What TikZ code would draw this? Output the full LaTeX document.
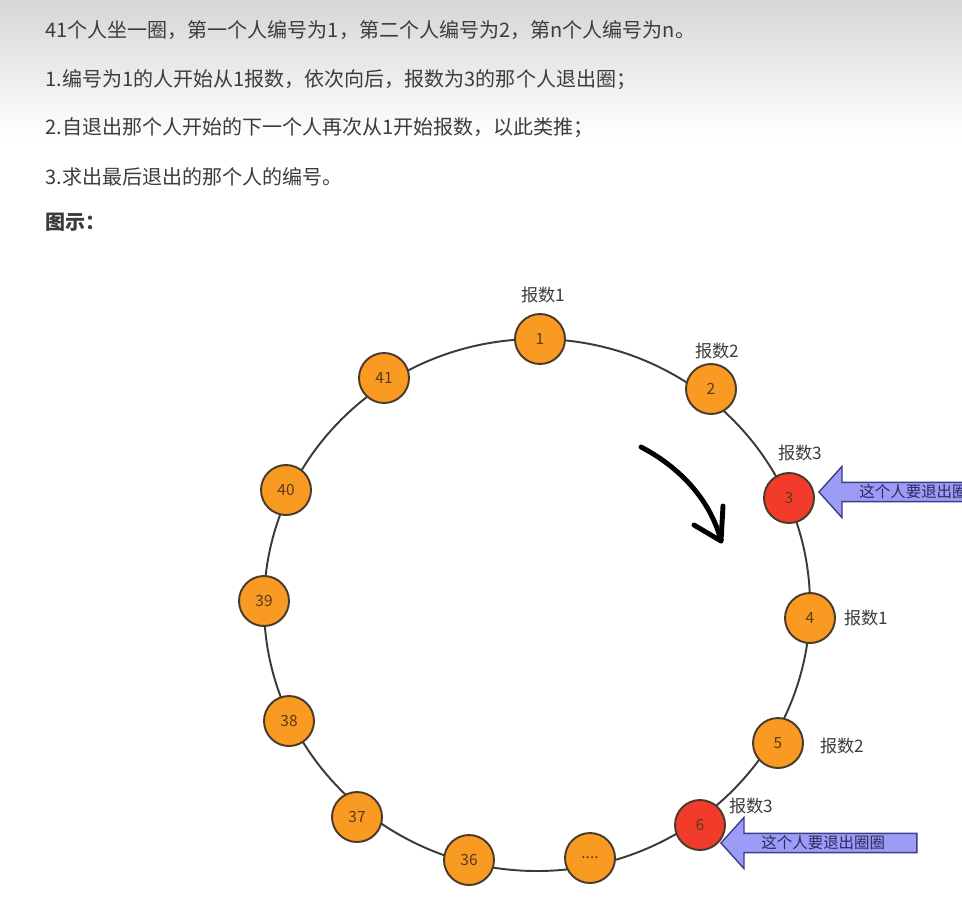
\documentclass[tikz,border=0pt]{standalone}
\usepackage{fontspec}
\setmainfont{Noto Sans CJK SC}
\usepackage{xcolor}
\usetikzlibrary{arrows.meta,shapes.arrows}
\definecolor{txtgray}{HTML}{3C3C3C}
\definecolor{ringgray}{HTML}{3A3A3A}
\definecolor{manorange}{HTML}{F99B22}
\definecolor{manred}{HTML}{F23C2B}
\definecolor{manedge}{HTML}{4A3A2C}
\definecolor{numbrown}{HTML}{5A3A1E}
\definecolor{arrfill}{HTML}{9C9CF6}
\definecolor{arredge}{HTML}{3D3D8A}
\definecolor{arrtxt}{HTML}{2A2A5E}
\tikzset{
  rule/.style={anchor=west,text=txtgray,font=\fontsize{11.4}{13}\selectfont,inner sep=0pt},
  man/.style={circle,draw=manedge,line width=1.1pt,fill=manorange,minimum size=1cm,inner sep=0pt,
    text=numbrown,font=\fontsize{8.8}{10}\selectfont},
  leaver/.style={man,fill=manred},
  cnt/.style={text=txtgray,font=\fontsize{9.8}{11}\selectfont,inner sep=0pt},
  quit/.style={single arrow,shape border rotate=180,draw=arredge,line width=0.8pt,fill=arrfill,
    single arrow tip angle=96,single arrow head extend=0.32cm,minimum height=3.92cm,inner xsep=2pt,inner ysep=1pt,
    anchor=tip,text=arrtxt,font=\fontsize{8.8}{10}\selectfont}
}
\begin{document}
\begin{tikzpicture}[x=0.02cm,y=-0.02cm]
\useasboundingbox (0,0) rectangle (962,896);
\clip (0,0) rectangle (962,896);
\fill[white] (0,0) rectangle (962,896);
\shade[top color=black!16,bottom color=white] (0,0) rectangle (962,140);
% problem statement
\node[rule] (r0) at (45,30) {41个人坐一圈，第一个人编号为1，第二个人编号为2，第n个人编号为n。};
\node[rule] (r1) at (45,80) {1.编号为1的人开始从1报数，依次向后，报数为3的那个人退出圈；};
\node[rule] (r2) at (45,128) {2.自退出那个人开始的下一个人再次从1开始报数，以此类推；};
\node[rule] (r3) at (45,177) {3.求出最后退出的那个人的编号。};
\node[rule,font=\fontsize{11.4}{13}\selectfont\bfseries] (r4) at (45,222) {图示：};
% the ring
\draw[ringgray,line width=1.1pt] (537,605) ellipse [x radius=273,y radius=266];
\node[man] (p1) at (540,339) {1};
\node[man] (p2) at (711,389) {2};
\node[leaver] (p3) at (789,498) {3};
\node[man] (p4) at (810,618) {4};
\node[man] (p5) at (778,743) {5};
\node[leaver] (p6) at (700,825) {6};
\node[man] (pn) at (590,858) {....};
\node[man] (p36) at (469,860) {36};
\node[man] (p37) at (357,817) {37};
\node[man] (p38) at (289,721) {38};
\node[man] (p39) at (264,601) {39};
\node[man] (p40) at (286,490) {40};
\node[man] (p41) at (384,378) {41};
% counting
\node[cnt] (c1) at (543,295) {报数1};
\node[cnt] (c2) at (717,351) {报数2};
\node[cnt] (c3) at (800,453) {报数3};
\node[cnt] (c4) at (866,618) {报数1};
\node[cnt] (c5) at (842,746) {报数2};
\node[cnt] (c6) at (751,806) {报数3};
% leaving
\node[quit] (q3) at (818,492) {这个人要退出圈圈};
\node[quit] (q6) at (720,843) {这个人要退出圈圈};
% direction
\coordinate (d0) at (641,447);
\coordinate (d1) at (721,541);
\draw[line width=2.8pt,line cap=round] (d0) .. controls (685,470) and (712,505) .. (d1);
\draw[line width=2.8pt,line cap=round,line join=round] (723,506) -- (d1) -- (694,525);
\end{tikzpicture}
\end{document}
